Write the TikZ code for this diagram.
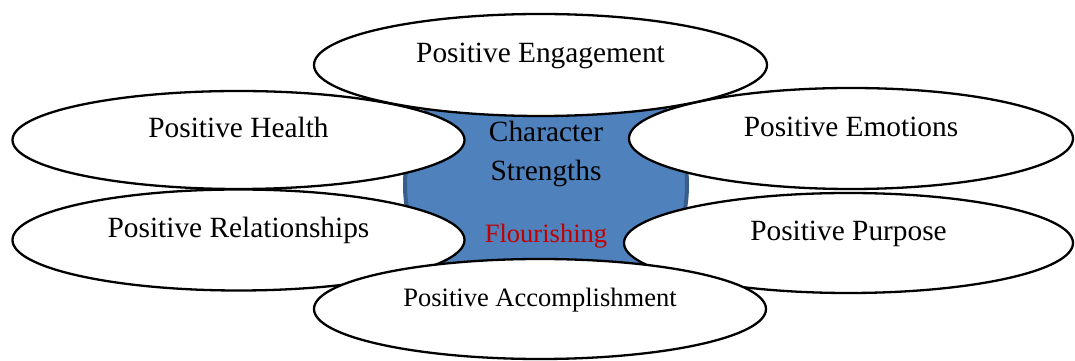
\documentclass[tikz,border=0pt]{standalone}
\usepackage{fontspec}
\setmainfont{Liberation Serif}
\usetikzlibrary{shapes.geometric}
\definecolor{coreblue}{HTML}{4F81BD}
\definecolor{coreedge}{HTML}{385D8A}
\definecolor{flourred}{HTML}{C00000}
\begin{document}
\begin{tikzpicture}[petal/.style={ellipse, draw, fill=white, line width=0.046cm, minimum width=9.04cm, minimum height=2.02cm, inner sep=0pt, text height=0.3cm, text depth=0.38cm, font=\fontsize{16.7}{20}\selectfont}]
		\useasboundingbox (0,0) rectangle (21.5,7.22);
		% Lingkaran tengah di bawah semua elips
		\node (core) at (10.92,3.52) [circle, draw=coreedge, fill=coreblue, line width=0.08cm, minimum size=5.64cm, inner sep=0pt, align=center, font=\fontsize{16.7}{22.2}\selectfont] {Character\\Strengths\\[0.46cm]{\fontsize{15.1}{18}\selectfont\color{flourred}Flourishing}};
		
		% Elips di sekeliling, urutan menentukan tumpukan
		\node (health) at (4.77,4.42) [petal, minimum height=1.96cm] {Positive Health};
		\node (emotions) at (17.02,4.45) [petal, minimum width=8.88cm] {Positive Emotions};
		\node (relations) at (4.77,2.42) [petal] {Positive Relationships};
		\node (purpose) at (16.97,2.36) [petal, minimum width=8.98cm, minimum height=2cm] {Positive Purpose};
		\node (engage) at (10.81,5.92) [petal, minimum width=9.06cm, minimum height=2.04cm] {Positive Engagement};
		\node (accomp) at (10.80,1.04) [petal, minimum height=2cm, font=\fontsize{15.1}{18}\selectfont] {Positive Accomplishment};
		
	\end{tikzpicture}
\end{document}
